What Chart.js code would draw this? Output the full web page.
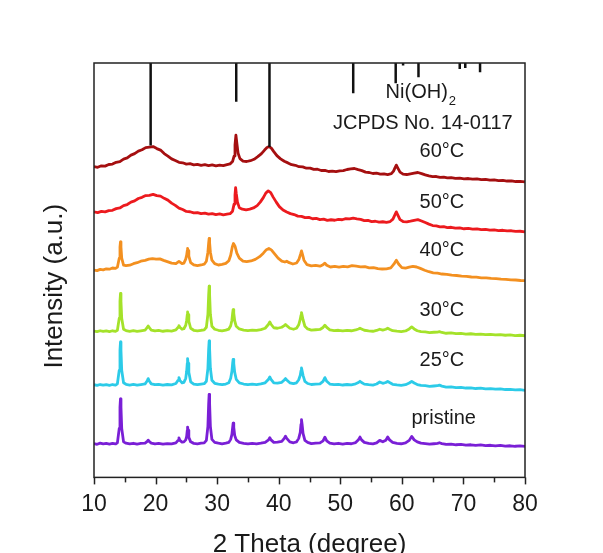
<!DOCTYPE html>
<html lang="en">
<head>
  <meta charset="UTF-8">
  <title>XRD patterns</title>
  <script src="https://cdn.jsdelivr.net/npm/chart.js"></script>
  <style>
    body {
      margin: 0;
      background: #fff;
    }
    #wrap {
      width: 603px;
      height: 553px;
    }
  </style>
</head>
<body>

<div id="wrap"><canvas id="xrd" width="603" height="553"></canvas></div>

<script>
// 2θ (deg), intensity (a.u., already offset for stacking)
const pristine = [
  [10, 33.8], [10.5, 33.1], [11, 34.2], [11.5, 33.4], [12, 33.9], [12.5, 33.2], [13, 34.0], [13.5, 33.4],
  [13.8, 34.5], [14.1, 49], [14.22, 70], [14.3, 78.5], [14.38, 70], [14.5, 49], [14.8, 35.5], [15.2, 34.2],
  [15.8, 33.4], [16.4, 34.1], [17, 33.3], [17.6, 33.9], [18.3, 34.2], [18.65, 36], [18.8, 37.2], [18.95, 36],
  [19.3, 34.3], [19.9, 33.5], [20.5, 34], [21.2, 33.2], [21.9, 33.8], [22.6, 33.4], [23.3, 34.5], [23.65, 37],
  [23.8, 39.5], [23.95, 37], [24.3, 35.2], [24.6, 35.5], [24.9, 37.5], [25.05, 41], [25.15, 47], [25.2, 50.3],
  [25.28, 47], [25.4, 40], [25.7, 35.5], [26.2, 34], [26.8, 33.6], [27.4, 34.2], [27.9, 34.5], [28.25, 37],
  [28.5, 51], [28.62, 73], [28.7, 83], [28.78, 73], [28.9, 51], [29.15, 38], [29.6, 35], [30.2, 34.2],
  [30.8, 33.6], [31.4, 34.3], [31.9, 35], [32.2, 38], [32.4, 43], [32.52, 50], [32.6, 54.3], [32.7, 50],
  [32.85, 42], [33.1, 37.5], [33.6, 35], [34.3, 34], [35, 33.4], [35.7, 34], [36.4, 33.5], [37.1, 34.2],
  [37.8, 35], [38.35, 37.5], [38.55, 39.7], [38.75, 37.5], [39.2, 35], [39.8, 35.3], [40.5, 36], [40.9, 39],
  [41.1, 41.2], [41.3, 39], [41.8, 35.5], [42.4, 34.6], [42.9, 35.5], [43.25, 39], [43.5, 45], [43.62, 53],
  [43.7, 57.6], [43.8, 53], [43.95, 44], [44.25, 37], [44.7, 35], [45.3, 33.8], [46, 34.3], [46.7, 34.5],
  [47.2, 36.5], [47.5, 40.2], [47.8, 36.5], [48.3, 34.2], [49, 33.6], [49.7, 34.1], [50.4, 33.3], [51.1, 33.9],
  [51.8, 33.6], [52.5, 34.8], [52.95, 37.5], [53.2, 40.3], [53.45, 37.5], [53.9, 35], [54.6, 34], [55.3, 33.5],
  [55.9, 34.5], [56.4, 37], [56.9, 35.6], [57.4, 37.2], [57.7, 40.3], [58.0, 37.5], [58.5, 35], [59.2, 34],
  [59.9, 33.6], [60.6, 34.5], [61.2, 37], [61.6, 41], [62.0, 37.5], [62.5, 35.5], [63.1, 34.2], [63.8, 33.8],
  [64.5, 33.2], [65.2, 33.6], [65.8, 34], [66.1, 34.6], [66.5, 33.8], [67.2, 32.9], [68, 33.3], [68.8, 32.6],
  [69.6, 33], [70.4, 32.3], [71.2, 32.6], [72, 32], [72.8, 32.4], [73.6, 31.7], [74.4, 32.1], [75.2, 31.5],
  [76, 31.9], [76.8, 31.3], [77.6, 31.6], [78.4, 31.1], [79.2, 31.4], [80, 31]
];
const c25 = [
  [10, 92.6], [10.5, 91.9], [11, 92.8], [11.5, 92.1], [12, 92.7], [12.5, 92], [13, 92.8], [13.5, 92.2],
  [13.8, 93.5], [14.1, 107], [14.22, 127], [14.3, 135.3], [14.38, 127], [14.5, 107], [14.8, 94.5], [15.2, 93],
  [15.8, 92.3], [16.4, 92.9], [17, 92.2], [17.6, 92.8], [18.3, 93.5], [18.65, 96.5], [18.8, 98.7], [18.95, 96.5],
  [19.3, 93.5], [19.9, 92.6], [20.5, 93], [21.2, 92.2], [21.9, 92.8], [22.6, 92.4], [23.3, 93.8], [23.65, 97],
  [23.8, 99.7], [23.95, 97], [24.3, 94.5], [24.6, 95], [24.9, 99], [25.05, 106], [25.15, 114], [25.2, 118.7],
  [25.28, 114], [25.4, 105], [25.7, 95.5], [26.2, 93.2], [26.8, 92.6], [27.4, 93.2], [27.9, 93.6], [28.25, 96],
  [28.5, 109], [28.62, 128], [28.7, 136.3], [28.78, 128], [28.9, 109], [29.15, 97], [29.6, 94], [30.2, 93.2],
  [30.8, 92.6], [31.4, 93.3], [31.9, 94.5], [32.2, 99], [32.4, 106], [32.52, 114], [32.6, 118], [32.7, 114],
  [32.85, 105], [33.1, 98], [33.6, 94.5], [34.3, 93.3], [35, 92.6], [35.7, 93.2], [36.4, 92.7], [37.1, 93.4],
  [37.8, 94.5], [38.35, 98], [38.55, 100.3], [38.75, 98], [39.2, 94.5], [39.8, 94.2], [40.5, 95], [40.9, 97.3],
  [41.1, 98.7], [41.3, 97.3], [41.8, 94.5], [42.4, 93.6], [42.9, 94.5], [43.25, 97.5], [43.5, 102], [43.62, 106.5],
  [43.7, 109.3], [43.8, 106.5], [43.95, 102], [44.25, 96], [44.7, 93.8], [45.3, 92.8], [46, 93.2], [46.7, 93.5],
  [47.2, 96], [47.5, 99.7], [47.8, 96], [48.3, 93.3], [49, 92.6], [49.7, 93], [50.4, 92.3], [51.1, 92.8],
  [51.8, 92.5], [52.5, 93.5], [52.95, 94.8], [53.2, 96], [53.45, 94.8], [53.9, 93.2], [54.6, 92.6], [55.3, 92.2],
  [55.9, 93.3], [56.4, 95.3], [56.9, 94], [57.4, 94.8], [57.7, 96], [58.0, 94.8], [58.5, 93], [59.2, 92.4],
  [59.9, 91.9], [60.6, 92.6], [61.2, 94.3], [61.6, 96], [62.0, 94.3], [62.5, 92.8], [63.1, 92], [63.8, 91.6],
  [64.5, 91], [65.2, 91.3], [65.8, 91.6], [66.1, 92.2], [66.5, 91.2], [67.2, 90.2], [68, 90.5], [68.8, 89.7],
  [69.6, 90], [70.4, 89.3], [71.2, 89.5], [72, 88.8], [72.8, 89.1], [73.6, 88.4], [74.4, 88.7], [75.2, 88.1],
  [76, 88.4], [76.8, 87.8], [77.6, 88], [78.4, 87.4], [79.2, 87.6], [80, 87]
];
const c30 = [
  [10, 146.2], [10.5, 145.6], [11, 146.5], [11.5, 145.8], [12, 146.4], [12.5, 145.7], [13, 146.5], [13.5, 145.9],
  [13.8, 147], [14.1, 159], [14.22, 176], [14.3, 183.7], [14.38, 176], [14.5, 159], [14.8, 148], [15.2, 146.7],
  [15.8, 146], [16.4, 146.6], [17, 145.9], [17.6, 146.5], [18.3, 147.2], [18.65, 149.8], [18.8, 151.3], [18.95, 149.8],
  [19.3, 147.2], [19.9, 146.3], [20.5, 146.8], [21.2, 146], [21.9, 146.6], [22.6, 146.2], [23.3, 147.3], [23.65, 150],
  [23.8, 151.7], [23.95, 150], [24.3, 148], [24.6, 148.5], [24.9, 152], [25.05, 157], [25.15, 162.5], [25.2, 165.3],
  [25.28, 162.5], [25.4, 156], [25.7, 149], [26.2, 147], [26.8, 146.4], [27.4, 147], [27.9, 147.4], [28.25, 150],
  [28.5, 163], [28.62, 182], [28.7, 191], [28.78, 182], [28.9, 163], [29.15, 151], [29.6, 148], [30.2, 147],
  [30.8, 146.4], [31.4, 147.1], [31.9, 148.2], [32.2, 151.5], [32.4, 157], [32.52, 164], [32.6, 167.7], [32.7, 164],
  [32.85, 156.5], [33.1, 151], [33.6, 148.3], [34.3, 147.2], [35, 146.6], [35.7, 147.2], [36.4, 146.8], [37.1, 147.6],
  [37.8, 149], [38.35, 153], [38.55, 155.3], [38.75, 153], [39.2, 149.5], [39.8, 149], [40.5, 150], [40.9, 151.6],
  [41.1, 152.7], [41.3, 151.6], [41.8, 149], [42.4, 148], [42.9, 149], [43.25, 152.5], [43.5, 158], [43.62, 162],
  [43.7, 164.7], [43.8, 162], [43.95, 157.5], [44.25, 151], [44.7, 148.3], [45.3, 147.2], [46, 147.5], [46.7, 147.8],
  [47.2, 149.8], [47.5, 152], [47.8, 149.8], [48.3, 147.3], [49, 146.6], [49.7, 147], [50.4, 146.3], [51.1, 146.8],
  [51.8, 146.5], [52.5, 147.3], [52.95, 148.3], [53.2, 149], [53.45, 148.3], [53.9, 147], [54.6, 146.4], [55.3, 146],
  [55.9, 146.8], [56.4, 148], [56.9, 147.2], [57.4, 148], [57.7, 149], [58.0, 148], [58.5, 146.6], [59.2, 146.1],
  [59.9, 145.7], [60.6, 146.3], [61.2, 148.3], [61.6, 150.3], [62.0, 148.3], [62.5, 146.5], [63.1, 145.6], [63.8, 145.3],
  [64.5, 144.7], [65.2, 145], [65.8, 145.2], [66.1, 145.6], [66.5, 144.8], [67.2, 144], [68, 144.3], [68.8, 143.6],
  [69.6, 143.9], [70.4, 143.2], [71.2, 143.5], [72, 142.9], [72.8, 143.2], [73.6, 142.6], [74.4, 142.9], [75.2, 142.3],
  [76, 142.6], [76.8, 142], [77.6, 142.3], [78.4, 141.7], [79.2, 142], [80, 141.5]
];
const c40 = [
  [10, 207.2], [10.5, 206.6], [11, 207.8], [11.5, 207.3], [12, 208.4], [12.5, 208], [13, 209.2], [13.5, 208.8],
  [13.8, 210], [14.1, 219], [14.22, 230], [14.3, 235.3], [14.38, 230], [14.5, 219], [14.8, 212], [15.2, 211.5],
  [15.8, 212], [16.4, 213.5], [17, 214.5], [17.6, 216], [18.3, 216.8], [18.9, 218], [19.5, 218.6], [20.1, 218],
  [20.7, 218.3], [21.3, 216.8], [21.9, 215.5], [22.6, 214], [23.3, 213.5], [23.8, 215.8], [24.3, 213.5], [24.6, 214],
  [24.9, 218], [25.05, 222], [25.15, 226.5], [25.2, 228.7], [25.28, 226.5], [25.4, 221], [25.7, 214.5], [26.2, 212.2],
  [26.8, 211.5], [27.4, 212.2], [27.9, 213], [28.25, 216], [28.5, 225], [28.62, 234], [28.7, 238.7], [28.78, 234],
  [28.9, 225], [29.15, 217], [29.6, 213.5], [30.2, 212.2], [30.8, 212.8], [31.4, 213.8], [31.9, 216.5], [32.2, 222],
  [32.45, 230], [32.65, 233.7], [32.9, 231], [33.2, 224], [33.6, 219], [34.2, 216], [34.8, 215.5], [35.5, 216.2],
  [36.2, 217.8], [36.9, 220.5], [37.5, 224], [38.0, 227.5], [38.4, 228.7], [38.8, 227.3], [39.3, 223.5], [39.9, 219],
  [40.5, 216], [41.0, 215.2], [41.3, 216], [41.7, 214.5], [42.3, 213.2], [42.9, 214.2], [43.3, 218], [43.55, 223],
  [43.7, 226.3], [43.85, 223], [44.1, 217], [44.6, 212.5], [45.3, 211.3], [46, 211.8], [46.7, 211], [47.2, 212.5],
  [47.5, 214], [47.8, 212], [48.4, 210.2], [49.1, 210.8], [49.8, 210], [50.5, 210.8], [51.2, 210.4], [51.9, 211.5],
  [52.6, 211], [53.3, 210.3], [54, 210.5], [54.7, 209.3], [55.4, 209.6], [56.1, 208.6], [56.8, 208.2], [57.5, 208.4],
  [58.2, 209.4], [58.7, 213], [59.1, 217], [59.5, 213], [60, 209.6], [60.6, 209], [61.2, 210], [61.8, 210.8],
  [62.4, 210.2], [63, 208.8], [63.7, 207], [64.4, 205.5], [65.1, 204.4], [65.8, 204], [66.5, 203.2], [67.3, 202.8],
  [68.1, 202], [68.9, 201.7], [69.7, 201], [70.5, 200.8], [71.3, 200.2], [72.1, 200], [72.9, 199.4], [73.7, 199.3],
  [74.5, 198.8], [75.3, 198.6], [76.1, 198], [76.9, 197.9], [77.7, 197.3], [78.5, 197.2], [79.3, 196.7], [80, 196.5]
];
const c50 = [
  [10, 265.3], [10.6, 264.6], [11.2, 265.8], [11.8, 265.2], [12.4, 266.5], [13, 266.8], [13.6, 268.5], [14.2, 269.2],
  [14.8, 271.5], [15.4, 272.6], [16, 275], [16.6, 276.2], [17.2, 278.6], [17.8, 279.8], [18.4, 281.6], [19, 281.8],
  [19.6, 282.8], [20.2, 281.5], [20.8, 281], [21.4, 278.8], [22, 277], [22.6, 274], [23.2, 271.8], [23.8, 269],
  [24.4, 267.6], [25, 265.7], [25.6, 265.4], [26.2, 264.2], [26.8, 264.6], [27.4, 263.5], [28, 264], [28.6, 263],
  [29.2, 263.6], [29.8, 262.6], [30.4, 263.2], [31, 262.3], [31.6, 263], [32.1, 263.5], [32.5, 266], [32.75, 273],
  [32.9, 282], [33.0, 289.5], [33.1, 284], [33.3, 275], [33.6, 269.5], [34.1, 268], [34.7, 267.2], [35.3, 268],
  [35.9, 269.2], [36.5, 271.5], [37, 275], [37.5, 279.5], [37.9, 284], [38.3, 286.3], [38.7, 284.5], [39.1, 280],
  [39.6, 275], [40.1, 270.5], [40.7, 267.2], [41.3, 265.2], [41.9, 263.5], [42.5, 262.6], [43.1, 261], [43.7, 260.8],
  [44.3, 259.5], [44.9, 259.8], [45.5, 258.4], [46.1, 258.8], [46.7, 257.5], [47.3, 258], [47.9, 256.8], [48.5, 257.4],
  [49.1, 256.9], [49.7, 257.8], [50.3, 257.4], [50.9, 258.5], [51.5, 258.2], [52.1, 259], [52.7, 258.3], [53.3, 257.8],
  [53.9, 256.6], [54.5, 256.8], [55.1, 255.6], [55.7, 255.9], [56.3, 255], [56.9, 255.4], [57.5, 254.8], [58.1, 255.6],
  [58.55, 258], [58.85, 262], [59.1, 265.3], [59.35, 262], [59.7, 257.5], [60.2, 255.6], [60.8, 255.3], [61.4, 256],
  [62, 256.8], [62.6, 257.5], [63.2, 256.2], [63.8, 254.6], [64.4, 253], [65, 251.6], [65.6, 251.2], [66.2, 250.3],
  [66.8, 250.5], [67.4, 249.6], [68, 249.9], [68.7, 249], [69.4, 249.2], [70.1, 248.4], [70.8, 248.7], [71.5, 248],
  [72.2, 248.3], [72.9, 247.5], [73.6, 247.8], [74.3, 247], [75, 247.3], [75.7, 246.6], [76.4, 246.9], [77.1, 246.2],
  [77.8, 246.4], [78.5, 245.7], [79.2, 245.9], [80, 245.3]
];
const c60 = [
  [10, 310.5], [10.6, 309.8], [11.2, 311.3], [11.8, 311], [12.4, 312.6], [13, 313], [13.6, 314.8], [14.2, 315.5],
  [14.8, 318], [15.4, 319.2], [16, 322], [16.6, 323.5], [17.2, 326], [17.8, 327.3], [18.4, 329.5], [19, 330],
  [19.6, 330.5], [20.2, 328.5], [20.8, 327], [21.4, 323.5], [22, 321], [22.6, 318.2], [23.2, 316.6], [23.8, 314.8],
  [24.4, 314.3], [25, 313], [25.6, 313.4], [26.2, 312.3], [26.8, 312.8], [27.4, 311.8], [28, 312.4], [28.6, 311.5],
  [29.2, 312.2], [29.8, 311.3], [30.4, 312], [31, 311.4], [31.6, 312.4], [32.1, 313.2], [32.5, 315.5], [32.75, 321],
  [32.9, 332], [33.05, 342], [33.2, 334], [33.4, 324], [33.7, 318.5], [34.2, 316], [34.8, 315.6], [35.4, 316.4],
  [36, 317.8], [36.6, 320.4], [37.2, 323.5], [37.7, 327], [38.1, 329.5], [38.45, 330.5], [38.8, 329], [39.2, 325.5],
  [39.7, 321.5], [40.3, 318.2], [40.9, 315.8], [41.5, 314.2], [42.1, 312.4], [42.7, 311.8], [43.3, 310.4], [43.9, 310.2],
  [44.5, 308.9], [45.1, 309], [45.7, 307.7], [46.3, 307.9], [46.9, 306.6], [47.5, 306.8], [48.1, 305.6], [48.7, 306],
  [49.3, 305.4], [49.9, 306.3], [50.5, 306.5], [51.1, 307.6], [51.7, 308.2], [52.3, 308.6], [52.9, 307.4], [53.5, 306.5],
  [54.1, 305], [54.7, 304.6], [55.3, 303.6], [55.9, 303.9], [56.5, 303], [57.1, 303.3], [57.7, 302.6], [58.3, 303.4],
  [58.65, 306], [58.9, 309.5], [59.1, 312], [59.35, 309], [59.7, 305], [60.2, 303], [60.8, 302.6], [61.4, 303.3],
  [62, 304], [62.6, 304.6], [63.2, 303.5], [63.8, 302.2], [64.4, 301.2], [65, 300.4], [65.6, 300.6], [66.2, 299.8],
  [66.8, 300], [67.4, 299.2], [68, 299.5], [68.7, 298.7], [69.4, 299], [70.1, 298.3], [70.8, 298.6], [71.5, 297.9],
  [72.2, 298.2], [72.9, 297.5], [73.6, 297.7], [74.3, 297], [75, 297.2], [75.7, 296.5], [76.4, 296.8], [77.1, 296.1],
  [77.8, 296.3], [78.5, 295.6], [79.2, 295.8], [80, 295.3]
];

// Ni(OH)2 reference lines, JCPDS 14-0117 (2θ, relative intensity)
const refTheta = [19.2, 33.1, 38.5, 52.1, 59.0, 60.2, 62.7, 69.4, 70.3, 72.7];
const refInt = [98, 46, 100, 36, 24, 3, 17, 7, 6, 11];

const seriesNames = ['pristine', '25°C', '30°C', '40°C', '50°C', '60°C'];
const seriesData = [pristine, c25, c30, c40, c50, c60];
const seriesColors = ['#7a1fd6', '#2ccbe8', '#a4e22a', '#f39020', '#ec1a1e', '#a50f10'];

const Y_TOP = 414;
const STICK_SCALE = 0.84;

// sticks hang from the top frame, broken apart by null points
const sticks = [];
refTheta.forEach((t, i) => {
  sticks.push({ x: t, y: Y_TOP });
  sticks.push({ x: t, y: Y_TOP - refInt[i] * STICK_SCALE });
  sticks.push({ x: t, y: null });
});

// label text, 2θ, intensity
const notes = [
  ['JCPDS No. 14-0117', 63.4, 353.7],
  ['60°C', 66.5, 325.3],
  ['50°C', 66.5, 274.3],
  ['40°C', 66.5, 227],
  ['30°C', 66.5, 166.3],
  ['25°C', 66.5, 117],
  ['pristine', 66.8, 59]
];

const FONT = "'Liberation Sans', Arial, sans-serif";

const datasets = [{
  label: 'JCPDS 14-0117',
  data: sticks,
  showLine: true,
  borderColor: '#111',
  borderWidth: 2.5,
  pointRadius: 0,
  spanGaps: false
}];
seriesData.forEach((pts, i) => {
  datasets.push({
    label: seriesNames[i],
    data: pts.map(p => ({ x: p[0], y: p[1] })),
    showLine: true,
    borderColor: seriesColors[i],
    borderWidth: 2.8,
    borderJoinStyle: 'round',
    pointRadius: 0,
    tension: 0
  });
});

const decor = {
  id: 'decor',
  afterDraw(chart) {
    const { ctx, chartArea: a, scales: { x, y } } = chart;
    ctx.save();

    // frame
    ctx.strokeStyle = '#222';
    ctx.lineWidth = 1.5;
    ctx.strokeRect(a.left, a.top, a.right - a.left, a.bottom - a.top);

    // outward ticks, minor every 5 degrees
    for (let v = 10; v <= 80; v += 5) {
      const px = Math.round(x.getPixelForValue(v)) + 0.5;
      ctx.beginPath();
      ctx.moveTo(px, a.bottom);
      ctx.lineTo(px, a.bottom + (v % 10 === 0 ? 7 : 5));
      ctx.stroke();
    }

    ctx.fillStyle = '#1a1a1a';
    ctx.textAlign = 'center';
    ctx.textBaseline = 'middle';

    // annotations
    ctx.font = '20px ' + FONT;
    notes.forEach(n => ctx.fillText(n[0], x.getPixelForValue(n[1]), y.getPixelForValue(n[2])));

    // Ni(OH)2 with subscript
    const nx = x.getPixelForValue(63.0);
    const ny = y.getPixelForValue(384.3);
    const w1 = ctx.measureText('Ni(OH)').width;
    ctx.font = '13px ' + FONT;
    const w2 = ctx.measureText('2').width;
    ctx.textAlign = 'left';
    ctx.fillText('2', nx - (w1 + w2) / 2 + w1 + 1, ny + 9);
    ctx.font = '20px ' + FONT;
    ctx.fillText('Ni(OH)', nx - (w1 + w2) / 2, ny);

    // axis titles
    ctx.textAlign = 'center';
    ctx.font = '26px ' + FONT;
    ctx.textBaseline = 'alphabetic';
    ctx.fillText('2 Theta (degree)', (a.left + a.right) / 2, 551.5);
    ctx.translate(62, (a.top + a.bottom) / 2 + 16);
    ctx.rotate(-Math.PI / 2);
    ctx.fillText('Intensity (a.u.)', 0, 0);

    ctx.restore();
  }
};

new Chart(document.getElementById('xrd').getContext('2d'), {
  type: 'scatter',
  data: { datasets },
  options: {
    responsive: false,
    animation: false,
    layout: { padding: { left: 94, right: 78, top: 63, bottom: 29 } },
    plugins: {
      legend: { display: false },
      tooltip: { enabled: false }
    },
    scales: {
      x: {
        type: 'linear',
        min: 10,
        max: 80,
        border: { display: false },
        grid: { drawOnChartArea: false, drawTicks: true, tickLength: 7, color: 'rgba(0,0,0,0)' },
        ticks: {
          stepSize: 5,
          autoSkip: false,
          maxRotation: 0,
          padding: 6,
          color: '#1a1a1a',
          font: { size: 23, family: FONT },
          callback: v => (v % 10 === 0 ? v : '')
        }
      },
      y: {
        display: false,
        min: 0,
        max: Y_TOP
      }
    }
  },
  plugins: [decor]
});
</script>

</body>
</html>
